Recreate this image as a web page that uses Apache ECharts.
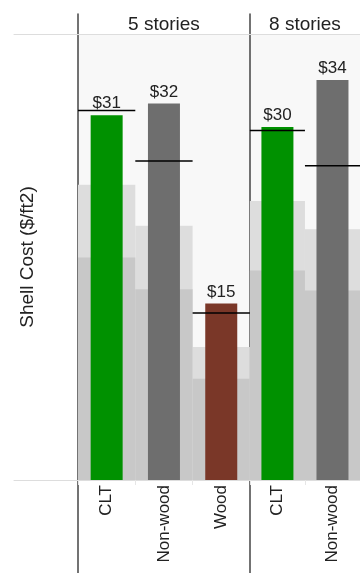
<!DOCTYPE html>
<html>
<head>
<meta charset="utf-8">
<script src="https://cdn.jsdelivr.net/npm/echarts@6/dist/echarts.min.js"></script>
<style>
  html, body { margin: 0; padding: 0; background: #ffffff; }
  #chart { width: 360px; height: 573px; }
</style>
</head>
<body>
<div id="chart"></div>
<script>
// Facet panels (building height) and the material categories inside each one
const facetNames = ['5 stories', '8 stories'];
const categories5 = ['CLT', 'Non-wood', 'Wood'];
const categories8 = ['CLT', 'Non-wood'];

// Shell cost per square foot, one bar per material
const shellCost5 = [31, 32, 15];
const shellCost8 = [30, 34];

// Black reference marks drawn across each category band
const referenceCost5 = [31.4, 27.1, 14.2];
const referenceCost8 = [29.7, 26.7];

// Shaded background steps behind the bars (upper and lower level)
const upperBand5 = [25.1, 21.6, 11.3];
const upperBand8 = [23.7, 21.3];
const lowerBand5 = [18.9, 16.2, 8.6];
const lowerBand8 = [17.8, 16.1];

const materialColors = { 'CLT': '#009100', 'Non-wood': '#6e6e6e', 'Wood': '#7a3728' };

const FONT = 'Liberation Sans, Arial, sans-serif';
const TEXT = '#222222';
const PLOT_TOP = 34;
const PLOT_HEIGHT = 446;
const BAND_PX = 57.3;
const Y_MAX = 37.9;

const facets = [
  { name: facetNames[0], cats: categories5, cost: shellCost5, ref: referenceCost5, upper: upperBand5, lower: lowerBand5 },
  { name: facetNames[1], cats: categories8, cost: shellCost8, ref: referenceCost8, upper: upperBand8, lower: lowerBand8 }
];

const grid = [];
const xAxis = [];
const yAxis = [];
const series = [];

// Frame grid: the light header rule and baseline running across the whole table
grid.push({ left: 14, right: 0, top: PLOT_TOP, height: PLOT_HEIGHT, show: false });
xAxis.push({ gridIndex: 0, type: 'value', position: 'bottom', axisLine: { show: true, lineStyle: { color: '#dddddd', width: 1 } },
  axisTick: { show: false }, axisLabel: { show: false }, splitLine: { show: false } });
xAxis.push({ gridIndex: 0, type: 'value', position: 'top', axisLine: { show: true, lineStyle: { color: '#dddddd', width: 1 } },
  axisTick: { show: false }, axisLabel: { show: false }, splitLine: { show: false } });
yAxis.push({ gridIndex: 0, type: 'value', show: false });

let left = 78;
facets.forEach(function (f, fi) {
  const width = f.cats.length * BAND_PX;

  // Tall divider grid: its y axis line is the dark vertical rule left of the facet
  const ruleGrid = grid.length;
  grid.push({ left: left - 0.5, width: width, top: 14, bottom: 0, show: false });
  xAxis.push({ gridIndex: ruleGrid, type: 'category', data: f.cats, show: false });
  yAxis.push({ gridIndex: ruleGrid, type: 'value', axisLine: { show: true, lineStyle: { color: '#444444', width: 1.5 } },
    axisTick: { show: false }, axisLabel: { show: false }, splitLine: { show: false } });

  // Plot grid for this facet
  const g = grid.length;
  grid.push({ left: left, width: width, top: PLOT_TOP, height: PLOT_HEIGHT, show: true,
    backgroundColor: '#f8f8f8', borderWidth: 0 });

  const bandAxis = xAxis.length;
  xAxis.push({ gridIndex: g, type: 'category', data: f.cats, position: 'bottom',
    axisLine: { show: false },
    axisTick: { show: true, length: 5, lineStyle: { color: '#e6e6e6' } },
    axisLabel: { rotate: 90, fontSize: 17, fontFamily: FONT, color: TEXT, margin: 5 } });
  const barAxis = xAxis.length;
  xAxis.push({ gridIndex: g, type: 'category', data: f.cats, show: false });
  xAxis.push({ gridIndex: g, type: 'category', data: [f.name], position: 'top',
    axisLine: { show: false }, axisTick: { show: false }, axisLabel: { show: false },
    name: f.name, nameLocation: 'middle', nameGap: 0,
    nameTextStyle: { fontSize: 19, fontFamily: FONT, color: TEXT } });

  const yIdx = yAxis.length;
  const yDef = { gridIndex: g, type: 'value', min: 0, max: Y_MAX,
    axisLine: { show: false }, axisTick: { show: false }, axisLabel: { show: false }, splitLine: { show: false } };
  if (fi === 0) {
    yDef.name = 'Shell Cost ($/ft2)';
    yDef.nameLocation = 'middle';
    yDef.nameGap = 41;
    yDef.nameTextStyle = { fontSize: 19, fontFamily: FONT, color: TEXT };
  }
  yAxis.push(yDef);

  // Background steps
  series.push({ type: 'bar', xAxisIndex: bandAxis, yAxisIndex: yIdx, data: f.upper, barWidth: '100%', barGap: '-100%',
    itemStyle: { color: '#dddddd' }, silent: true, z: 1 });
  series.push({ type: 'bar', xAxisIndex: bandAxis, yAxisIndex: yIdx, data: f.lower, barWidth: '100%', barGap: '-100%',
    itemStyle: { color: '#c8c8c8' }, silent: true, z: 1 });

  // Cost bars with value labels
  series.push({ type: 'bar', xAxisIndex: barAxis, yAxisIndex: yIdx, barWidth: 32, z: 2,
    data: f.cost.map(function (v, i) { return { value: v, itemStyle: { color: materialColors[f.cats[i]] } }; }),
    label: { show: true, position: 'top', distance: 3, fontSize: 17, fontFamily: FONT, color: TEXT,
      formatter: function (p) { return '$' + p.value; } } });

  // Reference marks spanning each category band
  series.push({ type: 'custom', xAxisIndex: bandAxis, yAxisIndex: yIdx, z: 3, silent: true,
    data: f.ref.map(function (v, i) { return [i, v]; }),
    renderItem: function (params, api) {
      const p = api.coord([api.value(0), api.value(1)]);
      const w = api.size([1, 0])[0];
      return { type: 'line', shape: { x1: p[0] - w / 2, y1: p[1], x2: p[0] + w / 2, y2: p[1] },
        style: { stroke: '#000000', lineWidth: 1.5 } };
    } });

  left += width;
});

const chart = echarts.init(document.getElementById('chart'), null, { renderer: 'canvas' });
chart.setOption({ animation: false, backgroundColor: '#ffffff', grid: grid, xAxis: xAxis, yAxis: yAxis, series: series });
</script>
</body>
</html>
